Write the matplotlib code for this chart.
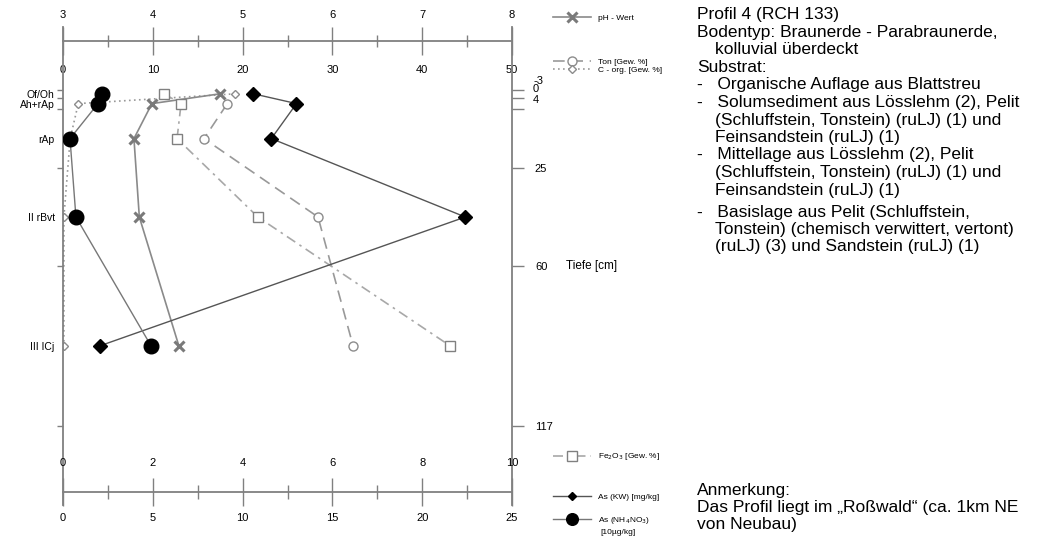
import numpy as np
import matplotlib
matplotlib.use("Agg")
import matplotlib.pyplot as plt

plt.rcParams['font.family'] = ['Liberation Sans', 'DejaVu Sans']

# Horizonte und Tiefen [cm]
horizonte = ["Of/Oh", "Ah+rAp", "rAp", "II rBvt", "III ICj"]
tiefe_mitte = [-1.5, 2, 14.5, 42.5, 88.5]
grenzen = [-3, 0, 4, 25, 60, 117]

# Messwerte je Horizont
ph = [4.75, 3.99, 3.79, 3.85, 4.29]
ton = [np.nan, 18.3, 15.7, 28.4, 32.3]
c_org = [19.2, 1.7, 0.8, 0.1, 0.1]
fe2o3 = [2.25, 2.63, 2.54, 4.34, 8.62]
as_kw = [10.6, 13.0, 11.6, 22.4, 2.06]
as_nh4 = [2.17, 1.95, 0.39, 0.72, 4.9]

W, H = 1042, 542
GRAU = "#808080"


def fx(px):
    return px / W


def fy(py):
    return 1 - py / H


def frac(py):
    # vertical pixel -> axes fraction of the main frame (27..505)
    return (505 - py) / 478.0


fig = plt.figure(figsize=(10.42, 5.42), dpi=100)
ax = fig.add_axes([fx(63), fy(505), fx(512) - fx(63), fy(27) - fy(505)])
ax_r = ax.twinx()
ax_ph = ax.twiny()
ax_fe = ax.twiny()
ax_as = ax.twiny()

for a in (ax_r, ax_ph, ax_fe, ax_as):
    for s in a.spines.values():
        s.set_visible(False)

# Tiefe: 0 cm bei y=98 px, 2.8 px/cm
ylim = ((505 - 98) / 2.8, (27 - 98) / 2.8)
ax.set_ylim(ylim)
ax_r.set_ylim(ylim)

# Hauptachse: Ton / C-org 0..50
ax.set_xlim(0, 50)
ax.set_xticks(range(0, 51, 10))
ax.xaxis.set_ticks_position('top')
ax.spines['top'].set_position(('axes', frac(76)))
ax.spines['top'].set_visible(False)
ax.spines['bottom'].set_visible(False)
for s in ('left', 'right'):
    ax.spines[s].set_color(GRAU)
    ax.spines[s].set_linewidth(1.3)
ax.tick_params(axis='x', length=0, pad=1, labelsize=8, labeltop=True, labelbottom=False)

ax.set_yticks(tiefe_mitte, labels=horizonte)
ax.set_yticks(grenzen, minor=True)
ax.tick_params(axis='y', which='major', length=0, pad=6, labelsize=7.5)
ax.tick_params(axis='y', which='minor', length=4.5, color=GRAU, width=1)

# rechte Tiefenachse
ax_r.set_yticks(grenzen, labels=["", "", "", "25", "60", "117"])
ax_r.tick_params(axis='y', length=8.5, color=GRAU, width=1, pad=8, labelsize=8)
for g in grenzen[:3]:
    ax_r.annotate(str(g), xy=(1, g), xycoords=ax_r.get_yaxis_transform(),
                  xytext=(21, 9), textcoords='offset pixels',
                  ha='left', va='center', fontsize=8)
ax_r.set_ylabel("Tiefe [cm]", rotation=0, ha='left', va='center', fontsize=8.5)
ax_r.yaxis.set_label_coords((566 - 63) / 449, 0.5)

# pH-Achse oben
ax_ph.set_xlim(3, 8)
ax_ph.xaxis.set_ticks_position('top')
ax_ph.spines['top'].set_visible(True)
ax_ph.spines['top'].set_color(GRAU)
ax_ph.spines['top'].set_linewidth(1.3)
ax_ph.spines['top'].set_position(('axes', frac(41)))
ax_ph.set_xticks(range(3, 9))
ax_ph.set_xticks(np.arange(3.5, 8, 1.0), minor=True)
ax_ph.tick_params(axis='x', which='major', direction='inout', length=20, color=GRAU,
                  width=1, labelsize=8, pad=5)
ax_ph.tick_params(axis='x', which='minor', direction='inout', length=8, color=GRAU, width=1)

# Fe2O3-Achse (nur Beschriftung)
ax_fe.set_xlim(0, 10)
ax_fe.xaxis.set_ticks_position('top')
ax_fe.spines['top'].set_position(('axes', frac(469)))
ax_fe.set_xticks(range(0, 11, 2))
ax_fe.tick_params(axis='x', length=0, pad=1, labelsize=8)

# As-Achse unten
ax_as.set_xlim(0, 25)
ax_as.xaxis.set_ticks_position('bottom')
ax_as.xaxis.set_label_position('bottom')
ax_as.spines['bottom'].set_visible(True)
ax_as.spines['bottom'].set_color(GRAU)
ax_as.spines['bottom'].set_linewidth(1.3)
ax_as.spines['bottom'].set_position(('axes', frac(492)))
ax_as.set_xticks(range(0, 26, 5))
ax_as.set_xticks(np.arange(2.5, 25, 5), minor=True)
ax_as.tick_params(axis='x', which='major', direction='inout', length=20, color=GRAU,
                  width=1, labelsize=8, pad=5, labelbottom=True, labeltop=False)
ax_as.tick_params(axis='x', which='minor', direction='inout', length=10, color=GRAU, width=1)

# Daten
l_corg, = ax.plot(c_org, tiefe_mitte, color="#999999", lw=1.2, dashes=(1, 2),
                  marker='D', ms=4.5, mfc='white', mec="#8c8c8c", mew=1)
l_ton, = ax.plot(ton, tiefe_mitte, color="#999999", lw=1.2, dashes=(7, 4),
                 marker='o', ms=6.5, mfc='white', mec="#8c8c8c", mew=1)
l_fe, = ax_fe.plot(fe2o3, tiefe_mitte, color="#a8a8a8", lw=1.2, dashes=(6, 3, 1.5, 3),
                   marker='s', ms=6.5, mfc='white', mec="#808080", mew=1)
l_ph, = ax_ph.plot(ph, tiefe_mitte, color="#8a8a8a", lw=1.2,
                   marker='x', ms=7, mec="#7a7a7a", mew=2.2)
l_kw, = ax_as.plot(as_kw, tiefe_mitte, color="#555555", lw=1,
                   marker='D', ms=7.5, mfc='black', mec='black')
l_nh4, = ax_as.plot(as_nh4, tiefe_mitte, color="#777777", lw=1,
                    marker='o', ms=10.5, mfc='black', mec='black')

# Legenden
leg_kw = dict(loc='center left', frameon=False, fontsize=6, handlelength=4.6,
              handletextpad=0.8, borderpad=0, borderaxespad=0, labelspacing=0.1)
fig.legend([l_ph], ["pH - Wert"], bbox_to_anchor=(fx(553), fy(18)), **leg_kw)
fig.legend([l_ton, l_corg], ["Ton [Gew. %]", "C - org. [Gew. %]"],
           bbox_to_anchor=(fx(553), fy(66)), **leg_kw)
fig.legend([l_fe], ["Fe$_2$O$_3$ [Gew. %]"], bbox_to_anchor=(fx(553), fy(457)), **leg_kw)
fig.legend([l_kw], ["As (KW) [mg/kg]"], bbox_to_anchor=(fx(553), fy(497)), markerscale=0.6, **leg_kw)
fig.legend([l_nh4], ["As (NH$_4$NO$_3$)"], bbox_to_anchor=(fx(553), fy(520)), markerscale=0.8, **leg_kw)
fig.text(fx(600), fy(533), "[10µg/kg]", fontsize=6, va='center', ha='left')

# Beschreibung rechts
block1 = [
    (697, "Profil 4 (RCH 133)"),
    (697, "Bodentyp: Braunerde - Parabraunerde,"),
    (715, "kolluvial überdeckt"),
    (697, "Substrat:"),
    (697, "-   Organische Auflage aus Blattstreu"),
    (697, "-   Solumsediment aus Lösslehm (2), Pelit"),
    (715, "(Schluffstein, Tonstein) (ruLJ) (1) und"),
    (715, "Feinsandstein (ruLJ) (1)"),
    (697, "-   Mittellage aus Lösslehm (2), Pelit"),
    (715, "(Schluffstein, Tonstein) (ruLJ) (1) und"),
    (715, "Feinsandstein (ruLJ) (1)"),
]
block2 = [
    (697, "-   Basislage aus Pelit (Schluffstein,"),
    (715, "Tonstein) (chemisch verwittert, vertont)"),
    (715, "(ruLJ) (3) und Sandstein (ruLJ) (1)"),
]
block3 = [
    (697, "Anmerkung:"),
    (697, "Das Profil liegt im „Roßwald“ (ca. 1km NE"),
    (697, "von Neubau)"),
]
for start, block in ((15, block1), (212, block2), (490, block3)):
    for i, (x, txt) in enumerate(block):
        fig.text(fx(x), fy(start + i * 17.5), txt, fontsize=12.5, va='center', ha='left')

fig.savefig("out.png", dpi=100)
